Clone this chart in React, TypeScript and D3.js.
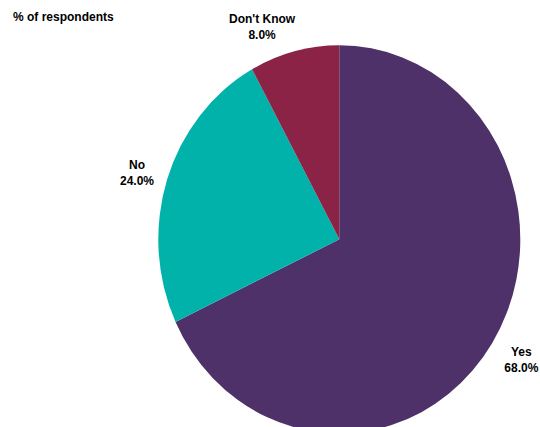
import React from "react";
import * as d3 from "d3";

const categories = ["Yes", "No", "Don't Know"];
const values = [68.0, 24.0, 8.0];
const colors = ["#4E3169", "#00B2A9", "#8A2346"];
const labelNudgeX = [-2, 5, -23];
const labelNudgeY = [3, 0, -2];
const title = "% of respondents";

export default function App() {
  const width = 540;
  const height = 427;
  const cx = 339.3;
  const cy = 239.3;
  const r = 181;
  const yStretch = 194 / 181;
  const labelR = 218;

  const pie = d3.pie<number>().sort(null).value((d) => d)(values);
  const arc = d3.arc<d3.PieArcDatum<number>>().innerRadius(0).outerRadius(r);

  return (
    <svg
      width={width}
      height={height}
      style={{ position: "absolute", left: 0, top: 0, background: "#fff" }}
      fontFamily="'Liberation Sans', Arial, sans-serif"
    >
      <rect width={width} height={height} fill="#fff" />
      <text x={13} y={21} fontSize={12} fontWeight="bold" fill="#000">
        {title}
      </text>
      <g transform={`translate(${cx},${cy})`}>
        <g transform={`scale(1,${yStretch})`}>
          {pie.map((p, i) => (
            <path key={categories[i]} d={arc(p) || ""} fill={colors[i]} />
          ))}
        </g>
        {pie.map((p, i) => {
          const mid = (p.startAngle + p.endAngle) / 2;
          const x = Math.sin(mid) * labelR + labelNudgeX[i];
          const y = -Math.cos(mid) * labelR + labelNudgeY[i];
          return (
            <text
              key={"l" + i}
              x={x}
              y={y}
              textAnchor="middle"
              fontSize={12}
              fontWeight="bold"
              fill="#000"
            >
              <tspan x={x} dy={-3}>
                {categories[i]}
              </tspan>
              <tspan x={x} dy={16}>
                {values[i].toFixed(1) + "%"}
              </tspan>
            </text>
          );
        })}
      </g>
    </svg>
  );
}
